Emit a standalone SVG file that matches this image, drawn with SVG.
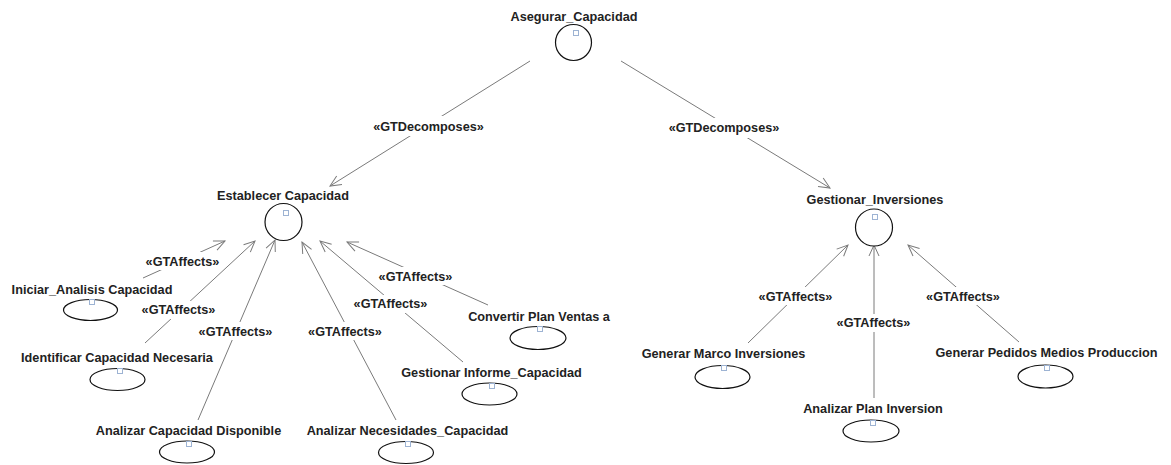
<svg xmlns="http://www.w3.org/2000/svg" width="1171" height="465" viewBox="0 0 1171 465">
  <style>
    text { font-family: "Liberation Sans", Arial, sans-serif; font-weight: bold; font-size: 12.7px; fill: #222; text-anchor: middle; }
    .edge { stroke: #7a7a7a; stroke-width: 1; fill: none; marker-end: url(#open); }
    .lbl-bg { fill: #fff; }
    .goal { fill: #fff; stroke: #111; stroke-width: 1.2; }
    .task { fill: #fff; stroke: #111; stroke-width: 1.2; }
    .mark { fill: #fff; stroke: #9db3d3; stroke-width: 1; }
  </style>
  <defs>
    <marker id="open" viewBox="-12 -6 13 12" refX="0" refY="0" markerWidth="13" markerHeight="12" markerUnits="userSpaceOnUse" orient="auto">
      <path d="M-11,-5 L0,0 L-11,5" fill="none" stroke="#7a7a7a" stroke-width="1"/>
    </marker>
  </defs>
  <rect width="1171" height="465" fill="#fff"/>

  <!-- connectors -->
  <g id="connectors">
    <line class="edge" x1="530" y1="61" x2="330" y2="186"/>
    <line class="edge" x1="621" y1="61" x2="830" y2="188"/>
    <line class="edge" x1="143" y1="278" x2="225" y2="241"/>
    <line class="edge" x1="145" y1="343" x2="255" y2="241"/>
    <line class="edge" x1="198" y1="420" x2="275" y2="240"/>
    <line class="edge" x1="396" y1="420" x2="302" y2="242"/>
    <line class="edge" x1="463" y1="362" x2="320" y2="241"/>
    <line class="edge" x1="488" y1="305" x2="347" y2="242"/>
    <line class="edge" x1="748" y1="343" x2="848" y2="245"/>
    <line class="edge" x1="874" y1="398" x2="874" y2="245"/>
    <line class="edge" x1="1019" y1="342" x2="908" y2="245"/>

    <rect class="lbl-bg" x="369" y="116" width="119" height="20"/>
    <text x="428.5" y="130.5">«GTDecomposes»</text>
    <rect class="lbl-bg" x="664" y="118" width="120" height="20"/>
    <text x="724" y="132">«GTDecomposes»</text>

    <rect class="lbl-bg" x="143" y="252" width="79" height="18"/>
    <text x="182.5" y="265.5">«GTAffects»</text>
    <rect class="lbl-bg" x="139" y="301" width="79" height="18"/>
    <text x="178.5" y="314">«GTAffects»</text>
    <rect class="lbl-bg" x="196" y="322" width="79" height="18"/>
    <text x="235.5" y="335.5">«GTAffects»</text>
    <rect class="lbl-bg" x="305" y="322" width="80" height="18"/>
    <text x="345" y="335.5">«GTAffects»</text>
    <rect class="lbl-bg" x="351" y="295" width="79" height="18"/>
    <text x="390.5" y="308">«GTAffects»</text>
    <rect class="lbl-bg" x="376" y="267" width="79" height="18"/>
    <text x="415.5" y="280.5">«GTAffects»</text>
    <rect class="lbl-bg" x="756" y="287" width="79" height="18"/>
    <text x="795.5" y="300.5">«GTAffects»</text>
    <rect class="lbl-bg" x="834" y="314" width="79" height="18"/>
    <text x="873.5" y="327">«GTAffects»</text>
    <rect class="lbl-bg" x="923" y="287" width="80" height="18"/>
    <text x="963" y="300.5">«GTAffects»</text>
  </g>

  <!-- goals -->
  <g id="asegurar-capacidad">
    <text x="574" y="20.5">Asegurar_Capacidad</text>
    <circle class="goal" cx="573.5" cy="42.5" r="18"/>
    <rect class="mark" x="573.5" y="30.5" width="5" height="5"/>
  </g>
  <g id="establecer-capacidad">
    <text x="283" y="199.5">Establecer Capacidad</text>
    <circle class="goal" cx="283.5" cy="222" r="18.5"/>
    <rect class="mark" x="283.5" y="210.5" width="5" height="5"/>
  </g>
  <g id="gestionar-inversiones">
    <text x="875" y="204">Gestionar_Inversiones</text>
    <circle class="goal" cx="874" cy="227.5" r="18.5"/>
    <rect class="mark" x="872.5" y="214.5" width="5" height="5"/>
  </g>

  <!-- tasks -->
  <g id="iniciar-analisis">
    <text x="92" y="294">Iniciar_Analisis Capacidad</text>
    <ellipse class="task" cx="90.5" cy="310" rx="27" ry="10.5"/>
    <rect class="mark" x="89.5" y="299.5" width="5" height="5"/>
  </g>
  <g id="identificar-capacidad">
    <text x="117" y="362">Identificar Capacidad Necesaria</text>
    <ellipse class="task" cx="117.5" cy="379.5" rx="27.5" ry="11"/>
    <rect class="mark" x="117.5" y="368.5" width="5" height="5"/>
  </g>
  <g id="analizar-capacidad-disponible">
    <text x="188.5" y="434.5">Analizar Capacidad Disponible</text>
    <ellipse class="task" cx="187" cy="452" rx="27.5" ry="11"/>
    <rect class="mark" x="186.5" y="441.5" width="5" height="5"/>
  </g>
  <g id="analizar-necesidades">
    <text x="407.5" y="434.5">Analizar Necesidades_Capacidad</text>
    <ellipse class="task" cx="406" cy="452.5" rx="27.5" ry="11"/>
    <rect class="mark" x="405.5" y="441.5" width="5" height="5"/>
  </g>
  <g id="gestionar-informe">
    <text x="491.5" y="376.5">Gestionar Informe_Capacidad</text>
    <ellipse class="task" cx="489.5" cy="394" rx="27.5" ry="11"/>
    <rect class="mark" x="489.5" y="383.5" width="5" height="5"/>
  </g>
  <g id="convertir-plan">
    <text x="539" y="320.5">Convertir Plan Ventas a</text>
    <ellipse class="task" cx="538" cy="338" rx="28" ry="11.5"/>
    <rect class="mark" x="537.5" y="326.5" width="5" height="5"/>
  </g>
  <g id="generar-marco">
    <text x="723.5" y="358">Generar Marco Inversiones</text>
    <ellipse class="task" cx="722.5" cy="377" rx="27.5" ry="11.5"/>
    <rect class="mark" x="721.5" y="365.5" width="5" height="5"/>
  </g>
  <g id="analizar-plan">
    <text x="873" y="413">Analizar Plan Inversion</text>
    <ellipse class="task" cx="871" cy="431" rx="28" ry="11"/>
    <rect class="mark" x="870.5" y="420.5" width="5" height="5"/>
  </g>
  <g id="generar-pedidos">
    <text x="1046.5" y="357">Generar Pedidos Medios Produccion</text>
    <ellipse class="task" cx="1045.5" cy="376.5" rx="27.5" ry="11.5"/>
    <rect class="mark" x="1044.5" y="365.5" width="5" height="5"/>
  </g>
</svg>
